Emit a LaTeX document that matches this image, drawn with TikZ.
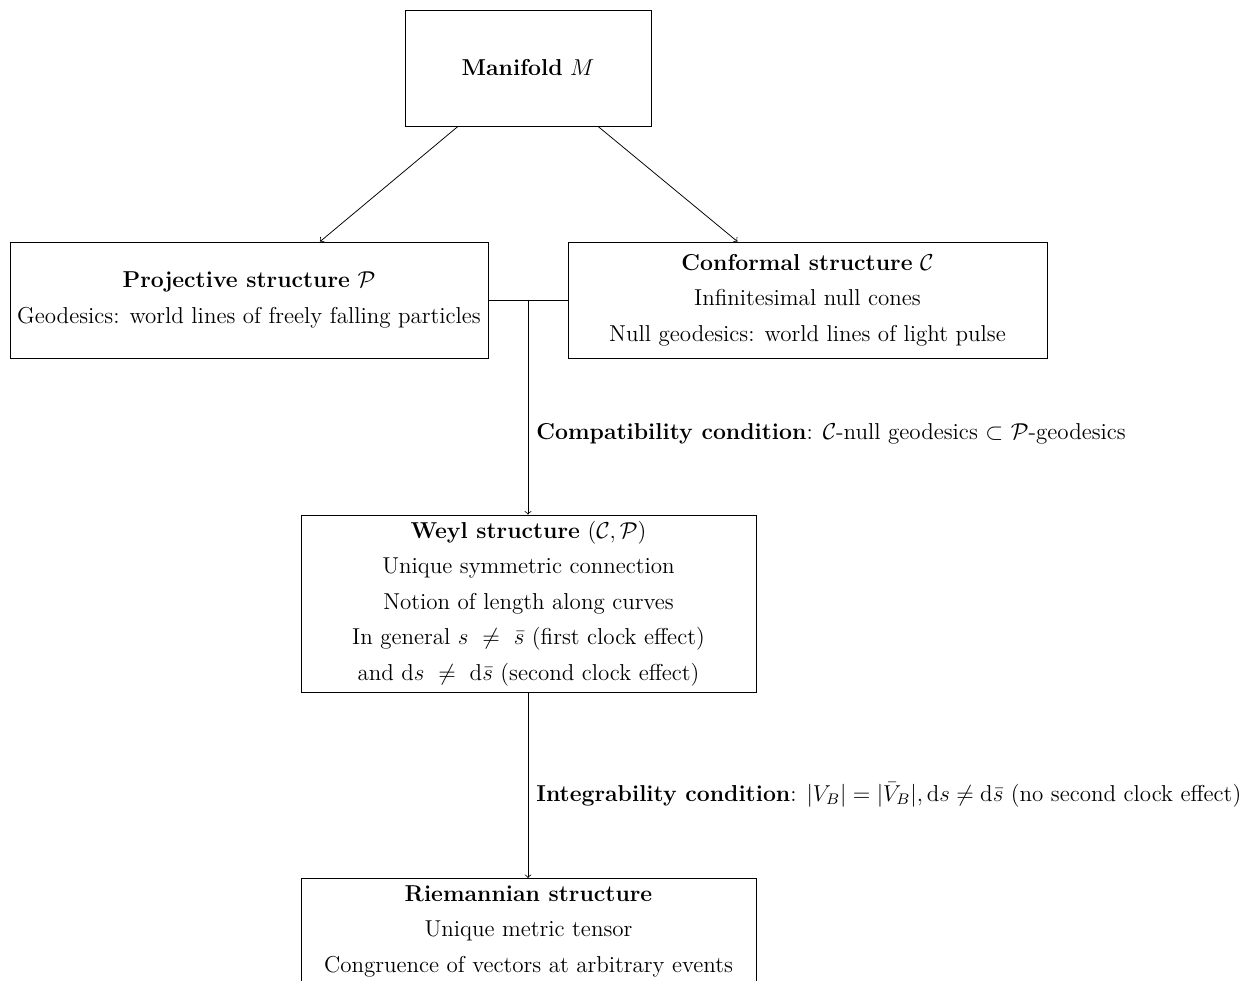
\documentclass[tikz,border=0pt]{standalone}
\usetikzlibrary{calc}
\begin{document}
\begin{tikzpicture}[x=0.5216pt,y=-0.5216pt,
  every node/.style={font=\fontsize{12}{14.5}\selectfont},
  box/.style={draw, align=center, inner sep=2pt},
  lbl/.style={anchor=west, inner sep=0pt},
  conn/.style={->}]
\useasboundingbox (0,0) rectangle (1255,981);
\node[box, minimum width=246*0.5216pt, minimum height=116*0.5216pt] (M) at (528,68) {\textbf{Manifold} $M$};
\node[box, minimum width=478*0.5216pt, minimum height=116*0.5216pt] (P) at (249,300) {\textbf{Projective structure} $\mathcal{P}$\\[4pt] Geodesics: world lines of freely falling particles};
\node[box, minimum width=479*0.5216pt, minimum height=116*0.5216pt] (C) at (807.5,300) {\textbf{Conformal structure} $\mathcal{C}$\\[4pt] Infinitesimal null cones\\[4pt] Null geodesics: world lines of light pulse};
\node[box, minimum width=455*0.5216pt, minimum height=177*0.5216pt] (W) at (528.5,603.5) {\textbf{Weyl structure} $(\mathcal{C},\mathcal{P})$\\[4pt] Unique symmetric connection\\[4pt] Notion of length along curves\\[4pt] In general $s\ \neq\ \bar{s}$ (first clock effect)\\[4pt] and $\mathrm{d}s\ \neq\ \mathrm{d}\bar{s}$ (second clock effect)};
\node[box, minimum width=455*0.5216pt, minimum height=106*0.5216pt, anchor=north] (R) at (528.5,878) {\textbf{Riemannian structure}\\[4pt] Unique metric tensor\\[4pt] Congruence of vectors at arbitrary events};
\coordinate (J) at ($(P.east)!0.5!(C.west)$);
\draw[conn] ($(M.south)+(-70,0)$) -- ($(P.north)+(71,0)$);
\draw[conn] ($(M.south)+(70,0)$) -- ($(C.north)+(-70,0)$);
\draw (P.east) -- (C.west);
\draw[conn] (J) -- (J |- W.north);
\draw[conn] (J |- W.south) -- (J |- R.north);
\node[lbl] (compat) at (536,434) {\textbf{Compatibility condition}: $\mathcal{C}$-null geodesics $\subset$ $\mathcal{P}$-geodesics};
\node[lbl] (integ) at (536,795) {\textbf{Integrability condition}: $|V_B| = |\bar{V}_B|, \mathrm{d}s \neq \mathrm{d}\bar{s}$ (no second clock effect)};
\end{tikzpicture}
\end{document}
